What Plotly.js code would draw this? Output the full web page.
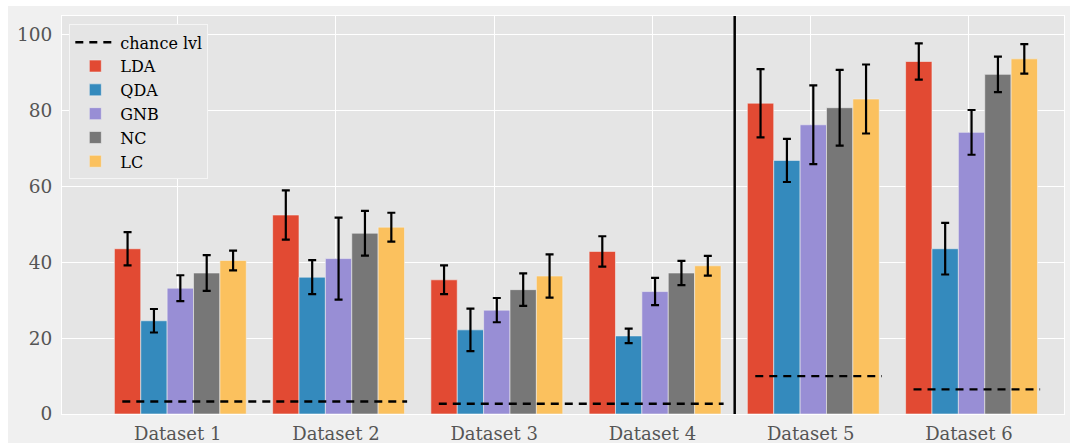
<!DOCTYPE html>
<html>
<head>
<meta charset="utf-8">
<script src="https://cdn.plot.ly/plotly-3.0.1.min.js"></script>
<style>
  html, body { margin: 0; padding: 0; background: #ffffff; }
  #chart { position: absolute; left: 8px; top: 6px; width: 1062px; height: 437px; }
</style>
</head>
<body>
<div id="chart"></div>
<script>
// ---- data ----
const categories = ["Dataset 1", "Dataset 2", "Dataset 3", "Dataset 4", "Dataset 5", "Dataset 6"];
const seriesNames = ["LDA", "QDA", "GNB", "NC", "LC"];
const colors = ["#E24A33", "#348ABD", "#988ED5", "#777777", "#FBC15E"];

const LDA = [43.6, 52.5, 35.4, 42.9, 82.0, 93.0];
const QDA = [24.6, 36.1, 22.2, 20.6, 66.9, 43.6];
const GNB = [33.2, 41.0, 27.4, 32.3, 76.3, 74.3];
const NC  = [37.2, 47.7, 32.8, 37.2, 80.8, 89.6];
const LC  = [40.5, 49.3, 36.4, 39.1, 83.1, 93.7];

const LDA_err = [4.4, 6.5, 3.8, 4.0, 9.0, 4.8];
const QDA_err = [3.1, 4.5, 5.6, 1.9, 5.7, 6.8];
const GNB_err = [3.4, 10.8, 3.2, 3.6, 10.4, 5.9];
const NC_err  = [4.7, 5.9, 4.3, 3.2, 10.0, 4.7];
const LC_err  = [2.6, 3.8, 5.7, 2.6, 9.1, 3.9];

// chance level: groups of datasets sharing one dashed line
const chanceFirst = [0, 2, 4, 5];
const chanceLast  = [1, 3, 4, 5];
const chanceLevel = [3.3, 2.7, 10.0, 6.5];

const values = [LDA, QDA, GNB, NC, LC];
const errors = [LDA_err, QDA_err, GNB_err, NC_err, LC_err];

// ---- build traces ----
const idx = categories.map((_, i) => i);
const barW = 0.1667;
const serif = "DejaVu Serif, serif";

const traces = [];
const cx = [], cy = [];
chanceFirst.forEach((f, k) => {
  cx.push(f - 0.35, chanceLast[k] + 0.45, null);
  cy.push(chanceLevel[k], chanceLevel[k], null);
});
traces.push({
  type: "scatter", mode: "lines", name: "chance lvl",
  x: cx, y: cy, connectgaps: false,
  line: { color: "#000000", width: 2.4, dash: "8px,6px" },
  hoverinfo: "skip"
});

values.forEach((vals, k) => {
  traces.push({
    type: "bar", name: seriesNames[k],
    x: idx, y: vals,
    width: barW, offset: -0.4 + k * barW,
    marker: { color: colors[k], line: { color: "#EEEEEE", width: 0.6 } },
    error_y: { type: "data", array: errors[k], visible: true, color: "#000000", thickness: 2.2, width: 4 }
  });
});

const layout = {
  width: 1062, height: 437,
  paper_bgcolor: "#F0F0F0",
  plot_bgcolor: "#E5E5E5",
  margin: { l: 54, r: 6, t: 10, b: 29 },
  barmode: "overlay",
  showlegend: true,
  font: { family: serif, color: "#555555", size: 18 },
  xaxis: {
    range: [-0.731, 5.601],
    tickmode: "array", tickvals: idx, ticktext: categories,
    showgrid: true, gridcolor: "#FFFFFF", gridwidth: 1,
    zeroline: false, showline: true, mirror: true, linecolor: "#FFFFFF", linewidth: 1,
    ticks: "", ticklabelstandoff: 3,
    tickfont: { family: serif, size: 18, color: "#555555" }
  },
  yaxis: {
    range: [0, 105],
    tickvals: [0, 20, 40, 60, 80, 100],
    showgrid: true, gridcolor: "#FFFFFF", gridwidth: 1,
    zeroline: false, showline: true, mirror: true, linecolor: "#FFFFFF", linewidth: 1,
    ticks: "", ticklabelstandoff: 5,
    tickfont: { family: serif, size: 18.5, color: "#555555" }
  },
  legend: {
    x: 0.0073, y: 0.979, xanchor: "left", yanchor: "top",
    bgcolor: "#E5E5E5", bordercolor: "#F5F5F5", borderwidth: 1,
    font: { family: serif, size: 16, color: "#000000" },
    traceorder: "normal", itemwidth: 40
  },
  shapes: [{
    type: "line", xref: "x", yref: "paper",
    x0: 3.52, x1: 3.52, y0: 0, y1: 1,
    line: { color: "#000000", width: 2.5 }
  }]
};

Plotly.newPlot("chart", traces, layout, { staticPlot: true, displayModeBar: false });
</script>
</body>
</html>
